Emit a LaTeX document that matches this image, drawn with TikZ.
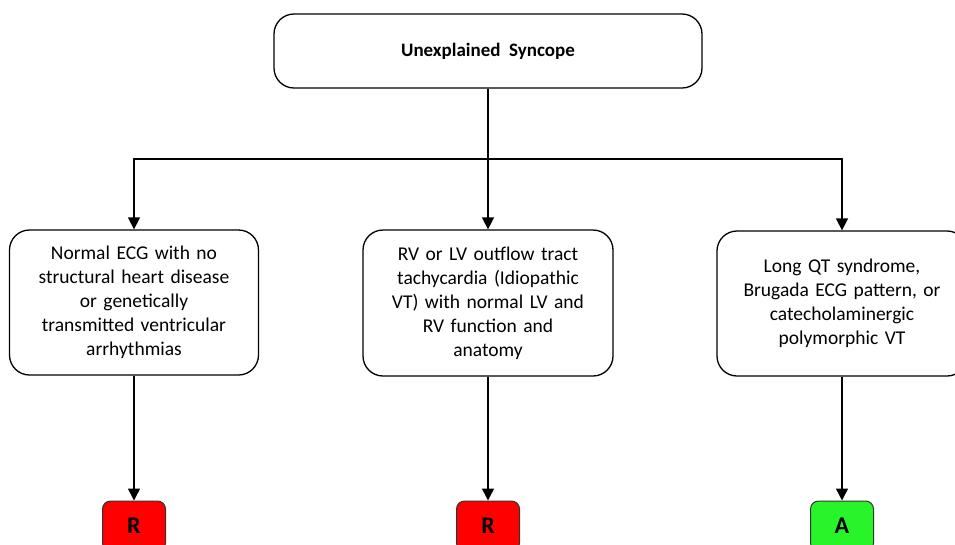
\documentclass[tikz,border=0pt]{standalone}
\usepackage{fontspec}
\setmainfont{Carlito}
\usetikzlibrary{arrows.meta}
\begin{document}
\begin{tikzpicture}[x=1pt,y=-1pt,
  bigbox/.style={draw=black,line width=1.3pt,rounded corners=20pt,fill=white,align=center,inner sep=0pt,
    font=\fontsize{19.5}{24}\selectfont},
  smallbox/.style={draw=black!80,line width=1pt,rounded corners=8pt,minimum width=63pt,minimum height=50pt,inner sep=0pt,
    font=\fontsize{24}{26}\selectfont\bfseries},
  conn/.style={line width=1.5pt,draw=black},
  arr/.style={conn,-{Triangle[width=12pt,length=12pt]}}]
\useasboundingbox (0,0) rectangle (955,544);
\clip (0,0) rectangle (955,544);
\fill[white] (0,0) rectangle (955,544);
\node[bigbox,minimum width=428pt,minimum height=74pt,font=\fontsize{19}{22}\selectfont\bfseries] (top) at (488,51) {Unexplained\ \ Syncope};
\node[bigbox,minimum width=249pt,minimum height=145pt,text width=240pt] (left) at (134,302.5) {Normal ECG with no\\structural heart disease\\or genetically\\transmitted ventricular\\arrhythmias};
\node[bigbox,minimum width=250pt,minimum height=146pt,text width=240pt] (mid) at (488,303) {RV or LV outflow tract\\tachycardia (Idiopathic\\VT) with normal LV and\\RV function and\\anatomy};
\node[bigbox,minimum width=250pt,minimum height=145pt,text width=240pt] (right) at (842,303.5) {Long QT syndrome,\\Brugada ECG pattern, or\\catecholaminergic\\polymorphic VT};
\node[smallbox,fill=red] (r1) at (134,526) {R};
\node[smallbox,fill=red] (r2) at (488,526) {R};
\node[smallbox,fill={rgb,255:red,40;green,245;blue,40}] (a3) at (842,526) {A};
\coordinate (j) at (488,159);
\draw[conn] (top.south) -- (j);
\draw[arr] (j) -- (mid.north);
\draw[arr] (j) -| (left.north);
\draw[arr] (j) -| (right.north);
\draw[arr] (left.south) -- (r1.north);
\draw[arr] (mid.south) -- (r2.north);
\draw[arr] (right.south) -- (a3.north);
\end{tikzpicture}
\end{document}
